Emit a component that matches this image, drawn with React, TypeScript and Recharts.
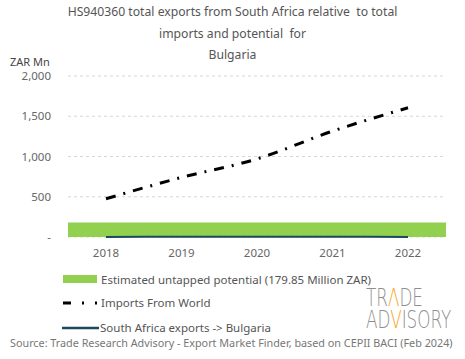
import React from "react";
import { CartesianGrid, Line, LineChart, ReferenceArea, XAxis, YAxis } from "recharts";

const years = ["2018", "2019", "2020", "2021", "2022"];
const importsFromWorld = [475, 740, 970, 1315, 1605];
const saExports = [1, 3, 4, 3, 1];
const untappedPotential = 179.85;
const yTicks = [0, 500, 1000, 1500, 2000];

const data = years.map((year, i) => ({
  year,
  imports: importsFromWorld[i],
  exports: saExports[i],
}));

const FONT = "'Noto Sans', 'Open Sans', sans-serif";
const GREY = "#666";
const lastIdx = years.length - 1;

const fmtY = (v: number) => (v === 0 ? "-" : v.toLocaleString("en-US"));

export default function App() {
  return (
    <div
      style={{
        position: "absolute",
        left: 0,
        top: 0,
        width: 465,
        height: 359,
        background: "#fff",
        fontFamily: FONT,
        color: GREY,
      }}
    >
      <div
        style={{
          position: "absolute",
          left: 0,
          top: 1,
          width: 465,
          textAlign: "center",
          fontSize: 12.2,
          lineHeight: "21.5px",
          color: "#555",
        }}
      >
        <div>HS940360 total exports from South Africa relative&nbsp; to total</div>
        <div>imports and potential&nbsp; for</div>
        <div>Bulgaria</div>
      </div>
      <div style={{ position: "absolute", left: 10, top: 54, fontSize: 11, color: "#444" }}>
        ZAR Mn
      </div>

      <div style={{ position: "absolute", left: 0, top: 0 }}>
        <LineChart width={465} height={267} data={data} margin={{ top: 76, right: 19, left: 0, bottom: 0 }}>
          <CartesianGrid vertical={false} stroke="#d6d6d6" strokeDasharray="3 3" />
          <XAxis
            dataKey="year"
            axisLine={false}
            tickLine={false}
            height={30}
            tickMargin={6}
            padding={{ left: 38, right: 38 }}
            tick={{ fill: GREY, fontSize: 11.5, fontFamily: FONT }}
          />
          <XAxis xAxisId="band" type="number" domain={[0, lastIdx]} allowDataOverflow hide />
          <YAxis
            width={68}
            domain={[0, 2000]}
            ticks={yTicks}
            axisLine={false}
            tickLine={false}
            tickMargin={11}
            tickFormatter={fmtY}
            tick={{ fill: GREY, fontSize: 11.5, fontFamily: FONT }}
          />
          <ReferenceArea
            xAxisId="band"
            x1={0}
            x2={lastIdx}
            y1={0}
            y2={untappedPotential}
            fill="#92d050"
            fillOpacity={1}
            stroke="none"
          />
          <Line
            type="monotone"
            dataKey="imports"
            stroke="#000"
            strokeWidth={3}
            strokeDasharray="10 8 2 8"
            dot={false}
            isAnimationActive={false}
          />
          <Line
            type="monotone"
            dataKey="exports"
            stroke="#1b4a5c"
            strokeWidth={2}
            dot={false}
            isAnimationActive={false}
          />
        </LineChart>
      </div>

      <div style={{ position: "absolute", left: 62, top: 270, fontSize: 11.5, color: "#555" }}>
        <div style={{ display: "flex", alignItems: "center", height: 18 }}>
          <svg width={38} height={10}>
            <rect x={1} y={1} width={34} height={8} fill="#92d050" />
          </svg>
          <span style={{ marginLeft: 1 }}>Estimated untapped potential (179.85 Million ZAR)</span>
        </div>
        <div style={{ display: "flex", alignItems: "center", height: 25, marginTop: 2 }}>
          <svg width={39} height={10}>
            <line x1={1} y1={5} x2={38} y2={5} stroke="#000" strokeWidth={3} strokeDasharray="8 11 2 11 2 20" />
          </svg>
          <span>Imports From World</span>
        </div>
        <div style={{ display: "flex", alignItems: "center", height: 25 }}>
          <svg width={38} height={10}>
            <line x1={0} y1={5} x2={37} y2={5} stroke="#1b4a5c" strokeWidth={2.5} />
          </svg>
          <span>South Africa exports -&gt; Bulgaria</span>
        </div>
      </div>

      <div
        style={{
          position: "absolute",
          left: 366,
          top: 287,
          fontFamily: "'DejaVu Sans', sans-serif",
          fontSize: 24,
          lineHeight: "22px",
          color: "#8f8f8f",
          fontWeight: 200,
          transform: "scaleX(0.7)",
          transformOrigin: "left top",
          whiteSpace: "nowrap",
        }}
      >
        <div>
          TR<span style={{ color: "#f5a623" }}>Λ</span>DE
        </div>
        <div>
          AD<span style={{ color: "#f5a623" }}>V</span>ISORY
        </div>
      </div>

      <div
        style={{
          position: "absolute",
          left: 10,
          top: 335,
          fontSize: 10.8,
          color: "#777",
          whiteSpace: "nowrap",
        }}
      >
        Source: Trade Research Advisory - Export Market Finder, based on CEPII BACI (Feb 2024)
      </div>
    </div>
  );
}
